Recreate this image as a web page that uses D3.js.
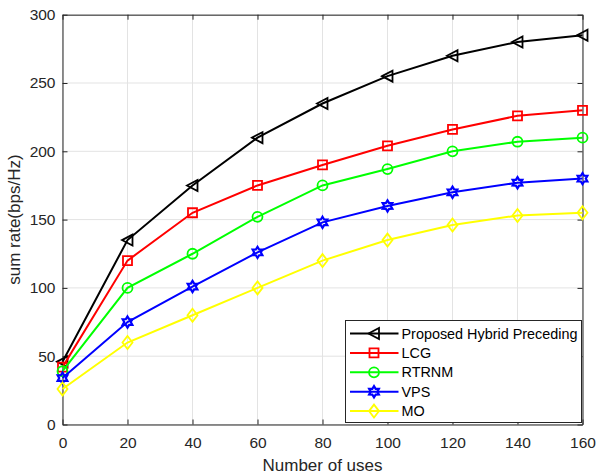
<!DOCTYPE html>
<html>
<head>
<meta charset="utf-8">
<script src="https://cdn.jsdelivr.net/npm/d3@7"></script>
<style>
  body { margin: 0; background: #fff; }
  text { font-family: 'Liberation Sans', Arial, sans-serif; }
</style>
</head>
<body>
<div id="chart"></div>
<script>
const users = [0, 20, 40, 60, 80, 100, 120, 140, 160];
const proposed = [46, 135, 175, 210, 235, 255, 270, 280, 285];
const lcg = [42, 120, 155, 175, 190, 204, 216, 226, 230];
const rtrnm = [39, 100, 125, 152, 175, 187, 200, 207, 210];
const vps = [34, 75, 101, 126, 148, 160, 170, 177, 180];
const mo = [26, 60, 80, 100, 120, 135, 146, 153, 155];
const xTicks = [0, 20, 40, 60, 80, 100, 120, 140, 160];
const yTicks = [0, 50, 100, 150, 200, 250, 300];

const series = [
  { name: 'Proposed Hybrid Preceding', values: proposed, color: '#000000', marker: 'triangle' },
  { name: 'LCG', values: lcg, color: '#ff0000', marker: 'square' },
  { name: 'RTRNM', values: rtrnm, color: '#00ff00', marker: 'circle' },
  { name: 'VPS', values: vps, color: '#0000ff', marker: 'hexagram' },
  { name: 'MO', values: mo, color: '#ffff00', marker: 'diamond' }
];

const W = 598, H = 475;
const margin = { top: 14.7, right: 15.5, bottom: 50.5, left: 62.5 };
const width = W - margin.left - margin.right,
  height = H - margin.top - margin.bottom;
const axisColor = '#262626';

const svg = d3.select('#chart').append('svg')
  .attr('width', W).attr('height', H);
const g = svg.append('g')
  .attr('transform', `translate(${margin.left},${margin.top})`);

const x = d3.scaleLinear().domain([0, 160]).range([0, width]);
const y = d3.scaleLinear().domain([0, 300]).range([height, 0]);

// grid
g.append('g').selectAll('line').data(xTicks).join('line')
  .attr('x1', d => x(d)).attr('x2', d => x(d))
  .attr('y1', 0).attr('y2', height)
  .attr('stroke', '#e3e3e3').attr('stroke-width', 1);
g.append('g').selectAll('line').data(yTicks).join('line')
  .attr('y1', d => y(d)).attr('y2', d => y(d))
  .attr('x1', 0).attr('x2', width)
  .attr('stroke', '#e3e3e3').attr('stroke-width', 1);

// axes (ticks inside, MATLAB style)
g.append('g').attr('transform', `translate(0,${height})`)
  .call(d3.axisBottom(x).tickValues(xTicks).tickSizeInner(-5).tickSizeOuter(0).tickPadding(12.5));
g.append('g')
  .call(d3.axisLeft(y).tickValues(yTicks).tickSizeInner(-5).tickSizeOuter(0).tickPadding(7));
g.append('g').attr('transform', `translate(${width},0)`)
  .call(d3.axisRight(y).tickValues(yTicks).tickSizeInner(-5).tickSizeOuter(0).tickFormat(''));
g.append('g')
  .call(d3.axisTop(x).tickValues(xTicks).tickSizeInner(-5).tickSizeOuter(0).tickFormat(''));
g.selectAll('.domain').attr('stroke', axisColor);
g.selectAll('.tick line').attr('stroke', axisColor);
g.selectAll('.tick text').attr('fill', axisColor).style('font-size', '15.5px')
  .style('font-family', "'Liberation Sans', Arial, sans-serif");

// axis labels
svg.append('text')
  .attr('x', margin.left + width / 2).attr('y', 470.5)
  .attr('text-anchor', 'middle').attr('fill', axisColor)
  .style('font-size', '17px').text('Number of uses');
svg.append('text')
  .attr('transform', `translate(20,${margin.top + height / 2}) rotate(-90)`)
  .attr('text-anchor', 'middle').attr('fill', axisColor)
  .style('font-size', '17px').text('sum rate(bps/Hz)');

// markers
const hexagram = (() => {
  const pts = [];
  for (let i = 0; i < 12; i++) {
    const a = Math.PI / 6 * i - Math.PI / 2;
    const r = i % 2 === 0 ? 5.6 : 3.3;
    pts.push([r * Math.cos(a), r * Math.sin(a)]);
  }
  return 'M' + pts.map(p => p.join(',')).join('L') + 'Z';
})();
const markerPath = {
  triangle: 'M-5.5,0L5,-5.5L5,5.5Z',
  square: 'M-4.5,-4.5H4.5V4.5H-4.5Z',
  circle: d3.symbol(d3.symbolCircle, 78)(),
  hexagram: hexagram,
  diamond: 'M0,-6.5L5,0L0,6.5L-5,0Z'
};

const line = d3.line()
  .x((d, i) => x(users[i]))
  .y(d => y(d));

series.forEach(s => {
  g.append('path')
    .datum(s.values)
    .attr('d', line)
    .attr('fill', 'none')
    .attr('stroke', s.color)
    .attr('stroke-width', 2);
  g.append('g').selectAll('path').data(s.values).join('path')
    .attr('transform', (d, i) => `translate(${x(users[i])},${y(d)})`)
    .attr('d', markerPath[s.marker])
    .attr('fill', 'none')
    .attr('stroke', s.color)
    .attr('stroke-width', s.marker === 'hexagram' ? 2.2 : 1.8);
});

// legend
const lg = svg.append('g').attr('transform', 'translate(345.5,320.5)');
lg.append('rect').attr('width', 236).attr('height', 102)
  .attr('fill', '#fff').attr('stroke', axisColor).attr('stroke-width', 1);
series.forEach((s, i) => {
  const cy = 13 + i * 19.4;
  lg.append('line').attr('x1', 4.5).attr('x2', 53).attr('y1', cy).attr('y2', cy)
    .attr('stroke', s.color).attr('stroke-width', 2);
  lg.append('path').attr('transform', `translate(28.5,${cy})`)
    .attr('d', markerPath[s.marker])
    .attr('fill', 'none').attr('stroke', s.color)
    .attr('stroke-width', s.marker === 'hexagram' ? 2.2 : 1.8);
  lg.append('text').attr('x', 56).attr('y', cy + 5)
    .attr('fill', '#000').style('font-size', '14.4px').text(s.name);
});
</script>
</body>
</html>
